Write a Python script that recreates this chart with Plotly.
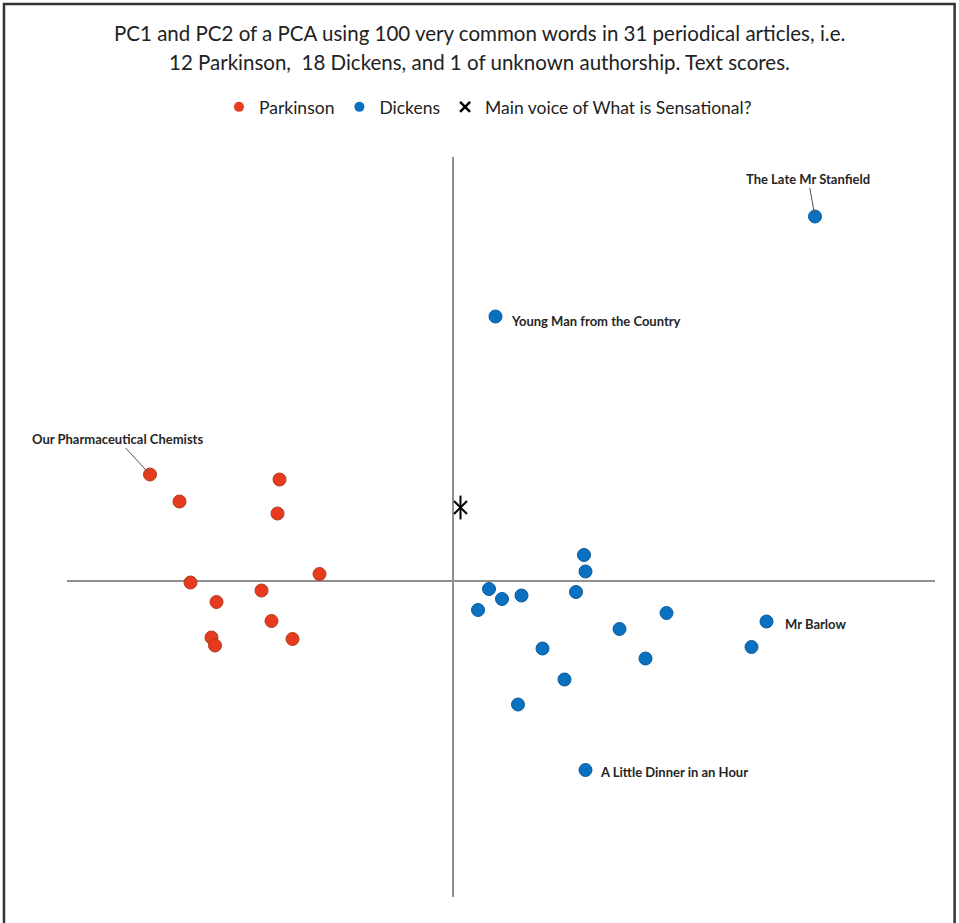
import plotly.graph_objects as go

# PCA text scores (PC1, PC2)
parkinson_titles = ["Our Pharmaceutical Chemists", "", "", "", "", "", "", "", "", "", "", ""]
parkinson_pc1 = [-6.06, -5.47, -3.47, -3.51, -5.25, -4.73, -3.83, -2.67, -3.63, -4.83, -4.76, -3.21]
parkinson_pc2 = [2.12, 1.58, 2.02, 1.34, -0.04, -0.43, -0.20, 0.13, -0.81, -1.14, -1.30, -1.17]

dickens_titles = ["", "", "", "", "", "", "", "", "", "", "", "", "",
                  "Mr Barlow", "", "A Little Dinner in an Hour",
                  "Young Man from the Country", "The Late Mr Stanfield"]
dickens_pc1 = [2.62, 2.65, 0.72, 0.98, 1.37, 0.50, 2.46, 4.27, 3.33, 1.79, 3.85, 2.23, 1.30,
               6.27, 5.97, 2.65, 0.85, 7.24]
dickens_pc2 = [0.51, 0.18, -0.17, -0.37, -0.30, -0.59, -0.23, -0.65, -0.97, -1.36, -1.56, -1.98, -2.48,
               -0.82, -1.33, -3.79, 5.28, 7.28]

unknown_pc1 = [0.15]
unknown_pc2 = [1.46]

title_lines = [
    "PC1 and PC2 of a PCA using 100 very common words in 31 periodical articles, i.e.",
    "12 Parkinson,  18 Dickens, and 1 of unknown authorship. Text scores.",
]

RED = "#e63b1f"
BLUE = "#0a70c0"
FONT = "Lato"

fig = go.Figure()

fig.add_trace(go.Scatter(
    x=parkinson_pc1, y=parkinson_pc2, mode="markers", name="Parkinson", showlegend=False,
    marker=dict(size=13, color=RED, line=dict(color="#b03a1a", width=1)),
))
fig.add_trace(go.Scatter(
    x=dickens_pc1, y=dickens_pc2, mode="markers", name="Dickens", showlegend=False,
    marker=dict(size=13, color=BLUE, line=dict(color="#0a5a9c", width=1)),
))
# six-armed star: an X plus a vertical bar
fig.add_trace(go.Scatter(
    x=unknown_pc1, y=unknown_pc2, mode="markers", name="Main voice of What is Sensational?",
    showlegend=False,
    marker=dict(symbol="x-thin-open", size=13, color="black", line=dict(color="black", width=2)),
))
fig.add_trace(go.Scatter(
    x=unknown_pc1, y=unknown_pc2, mode="markers", showlegend=False, hoverinfo="skip",
    marker=dict(symbol="line-ns-open", size=17, color="black", line=dict(color="black", width=2)),
))

# legend entries with smaller glyphs than the plotted markers
legend_items = [
    ("Parkinson", dict(symbol="circle", size=10, color=RED)),
    ("Dickens", dict(symbol="circle", size=10, color=BLUE)),
    ("Main voice of What is Sensational?",
     dict(symbol="x-thin-open", size=10, color="black", line=dict(color="black", width=2.5))),
]
for name, mk in legend_items:
    fig.add_trace(go.Scatter(x=[None], y=[None], mode="markers", name=name, marker=mk,
                             hoverinfo="skip"))

label_font = dict(family=FONT, size=13, color="#262626", weight="bold")

# labels with leader lines (offsets in pixels)
leader = {
    "Our Pharmaceutical Chemists": (-33, -36),
    "The Late Mr Stanfield": (-7, -38),
}
# labels placed just to the right of their point (dx right, dy down, pixels)
beside = {
    "Mr Barlow": (16, 2),
    "A Little Dinner in an Hour": (12, 2),
    "Young Man from the Country": (13, 4),
}

for xs, ys, names in [(parkinson_pc1, parkinson_pc2, parkinson_titles),
                      (dickens_pc1, dickens_pc2, dickens_titles)]:
    for x, y, name in zip(xs, ys, names):
        if not name:
            continue
        if name in leader:
            ax, ay = leader[name]
            fig.add_annotation(x=x, y=y, text=name, showarrow=True, arrowhead=0,
                               arrowwidth=1, arrowcolor="#555555", ax=ax, ay=ay,
                               standoff=3, font=label_font)
        else:
            dx, dy = beside[name]
            fig.add_annotation(x=x, y=y, text=name, showarrow=False, xanchor="left",
                               xshift=dx, yshift=-dy, font=label_font)

# two-line title
for yy, line in zip([1.1676, 1.1284], title_lines):
    fig.add_annotation(xref="paper", yref="paper", x=0.4747, y=yy, text=line,
                       showarrow=False, xanchor="center", yanchor="middle",
                       font=dict(family=FONT, size=20.5, color="#222222"))

# frame around the whole figure
fig.add_shape(type="rect", xref="paper", yref="paper",
              x0=-0.0726, x1=1.0226, y0=-0.04, y1=1.2068,
              line=dict(color="#333333", width=2.5), fillcolor="rgba(0,0,0,0)", layer="above")

axis_common = dict(showgrid=False, showticklabels=False, ticks="", showline=False,
                   zeroline=True, zerolinecolor="#8f8f8f", zerolinewidth=1.5)

fig.update_layout(
    width=959, height=923,
    margin=dict(l=67, r=24, t=157, b=26),
    paper_bgcolor="white", plot_bgcolor="white",
    xaxis=dict(range=[-7.72, 9.64], **axis_common),
    yaxis=dict(range=[-6.33, 8.47], **axis_common),
    showlegend=True,
    legend=dict(orientation="h", x=0.485, xanchor="center", y=1.0676, yanchor="middle",
                font=dict(family=FONT, size=17.5, color="#222222"),
                bgcolor="rgba(0,0,0,0)", itemclick=False),
    font=dict(family=FONT),
)

fig.write_html("out.html")
